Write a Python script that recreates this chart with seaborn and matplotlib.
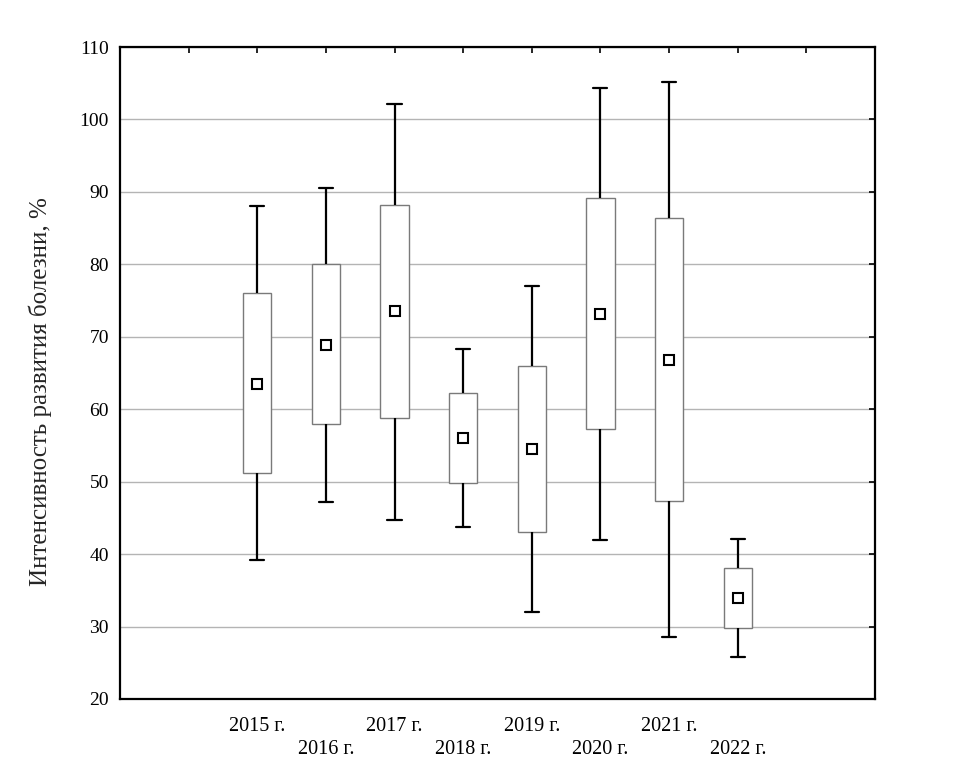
import matplotlib
matplotlib.use("Agg")
import matplotlib.pyplot as plt
import pandas as pd
import seaborn as sns

years = ["2015 г.", "2016 г.", "2017 г.", "2018 г.", "2019 г.", "2020 г.", "2021 г.", "2022 г."]
whisker_low = [39.2, 47.2, 44.7, 43.8, 32.0, 42.0, 28.6, 25.8]
box_low = [51.2, 58.0, 58.8, 49.8, 43.0, 57.3, 47.3, 29.8]
means = [63.5, 68.9, 73.5, 56.0, 54.5, 73.2, 66.8, 34.0]
box_high = [76.0, 80.0, 88.2, 62.3, 66.0, 89.2, 86.4, 38.1]
whisker_high = [88.0, 90.6, 102.2, 68.3, 77.0, 104.4, 105.2, 42.1]

# five points per year -> quartiles land exactly on the box edges
rows = []
for i, year in enumerate(years):
    for v in (whisker_low[i], box_low[i], means[i], box_high[i], whisker_high[i]):
        rows.append({"year": year, "value": v})
df = pd.DataFrame(rows)

sns.set_style("white")
plt.rcParams["font.family"] = ["Liberation Serif", "DejaVu Serif"]

fig = plt.figure(figsize=(9.8, 7.66), dpi=100)
ax = fig.add_axes([0.1224, 0.0875, 0.7705, 0.8511])

sns.boxplot(
    data=df,
    x="year",
    y="value",
    order=years,
    whis=(0, 100),
    width=0.41,
    color="white",
    linecolor="black",
    linewidth=1.6,
    showfliers=False,
    boxprops=dict(edgecolor="#7a7a7a", linewidth=1.0),
    medianprops=dict(linewidth=0, alpha=0),
    ax=ax,
)
sns.pointplot(
    x=years,
    y=means,
    order=years,
    linestyle="none",
    marker="s",
    color="black",
    markerfacecolor="white",
    markeredgecolor="black",
    markersize=7,
    markeredgewidth=1.5,
    errorbar=None,
    ax=ax,
)

ax.set_xlim(-2, 9)
ax.set_ylim(20, 110)
ax.set_yticks(range(20, 111, 10))
ax.set_xticks(range(-1, 9))
ax.set_xticklabels([""] + [y if i % 2 == 0 else "\n" + y for i, y in enumerate(years)] + [""])
for lbl in ax.get_xticklabels():
    lbl.set_linespacing(1.3)
ax.yaxis.grid(True, color="#b4b4b4", linewidth=1.0)
ax.xaxis.grid(False)
ax.set_axisbelow(True)

ax.tick_params(axis="both", direction="in", length=4, width=1.2, colors="black",
               top=True, right=True, labelsize=14)
ax.tick_params(axis="x", labelsize=14.5, pad=13)
ax.tick_params(axis="y", pad=8)
for s in ax.spines.values():
    s.set_color("black")
    s.set_linewidth(1.6)

ax.set_xlabel("")
ax.set_ylabel("Интенсивность развития болезни, %", fontsize=18)
ax.yaxis.set_label_coords(-0.090, 0.471)

plt.savefig("out.png", dpi=100)
plt.close()
